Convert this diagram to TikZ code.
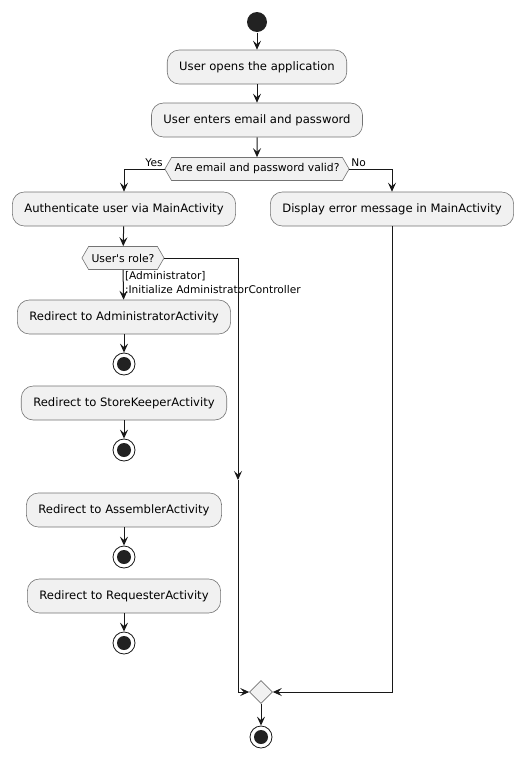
\documentclass[tikz,border=0pt]{standalone}
\usepackage{fontspec}
\setmainfont{DejaVu Sans}
\usetikzlibrary{arrows.meta,positioning,shapes.geometric,shapes.symbols}

\definecolor{actfill}{HTML}{F1F1F1}
\definecolor{linecol}{HTML}{181818}
\definecolor{dotcol}{HTML}{222222}

\tikzset{
  action/.style={rectangle, rounded corners=12pt, draw=black!55, fill=actfill, line width=0.6pt,
    minimum height=34pt, inner xsep=12pt, text=black, font=\fontsize{11.6}{13}\selectfont},
  choice/.style={signal, signal to=west and east, signal pointer angle=120, draw=black!55,
    fill=actfill, line width=0.6pt, minimum height=23pt, inner xsep=3pt, text=black,
    font=\fontsize{10.8}{12}\selectfont},
  merge/.style={diamond, draw=black!55, fill=actfill, line width=0.6pt, minimum size=23pt, inner sep=0pt},
  startdot/.style={circle, fill=dotcol, minimum size=20pt, inner sep=0pt},
  stopdot/.style={circle, draw=linecol, fill=white, line width=0.8pt, minimum size=22pt, inner sep=0pt,
    path picture={\fill[dotcol] (path picture bounding box.center) circle (7pt);}},
  guard/.style={text=black, font=\fontsize{10.6}{14}\selectfont, inner sep=1.5pt}
}

\begin{document}
\begin{tikzpicture}[->,>={Stealth[length=9pt,width=8pt,inset=3.5pt]}, x=1pt, y=-1pt,
    line width=1pt, color=linecol]
  \useasboundingbox (0,0) rectangle (532,758);

  \node[startdot] (start) at (257,22) {};
  \node[action] (open)  at (257,67)  {User opens the application};
  \node[action] (enter) at (257,120) {User enters email and password};
  \node[choice] (valid) at (257,169) {Are email and password valid?};
  \node[action] (auth)  at (124,209) {Authenticate user via MainActivity};
  \node[action] (err)   at (392,209) {Display error message in MainActivity};
  \node[choice] (role)  at (123,258) {User\textquotesingle s role?};

  % one column of redirects
  \node[action] (admin) at (124,317) {Redirect to AdministratorActivity};
  \node[stopdot] (endA) at (124,364) {};
  \node[action] (store) at (124,403) {Redirect to StoreKeeperActivity};
  \node[stopdot] (endS) at (124,450) {};
  \node[action] (asm)   at (124,510) {Redirect to AssemblerActivity};
  \node[stopdot] (endM) at (124,557) {};
  \node[action] (req)   at (124,596) {Redirect to RequesterActivity};
  \node[stopdot] (endR) at (124,643) {};

  \node[merge] (merge) at (261,692) {};
  \node[stopdot] (stop) at (261,737) {};
  \coordinate (bypass) at (238,480);

  \draw (start) -- (open);
  \draw (open) -- (enter);
  \draw (enter) -- (valid);
  \draw (valid.west) -| (auth) node[pos=0, anchor=south east, guard] {Yes};
  \draw (valid.east) -| (err) node[pos=0, anchor=south west, guard] {No};
  \draw (auth) -- (role);
  \draw (role.south) -- (admin)
    node[pos=0, anchor=north west, guard, align=left] {[Administrator]\\:Initialize AdministratorController};
  \draw (admin) -- (endA);
  \draw (store) -- (endS);
  \draw (asm) -- (endM);
  \draw (req) -- (endR);
  \draw (role.east) -| (bypass);
  \draw (bypass) |- (merge.west);
  \draw (err) |- (merge.east);
  \draw (merge) -- (stop);
\end{tikzpicture}
\end{document}
